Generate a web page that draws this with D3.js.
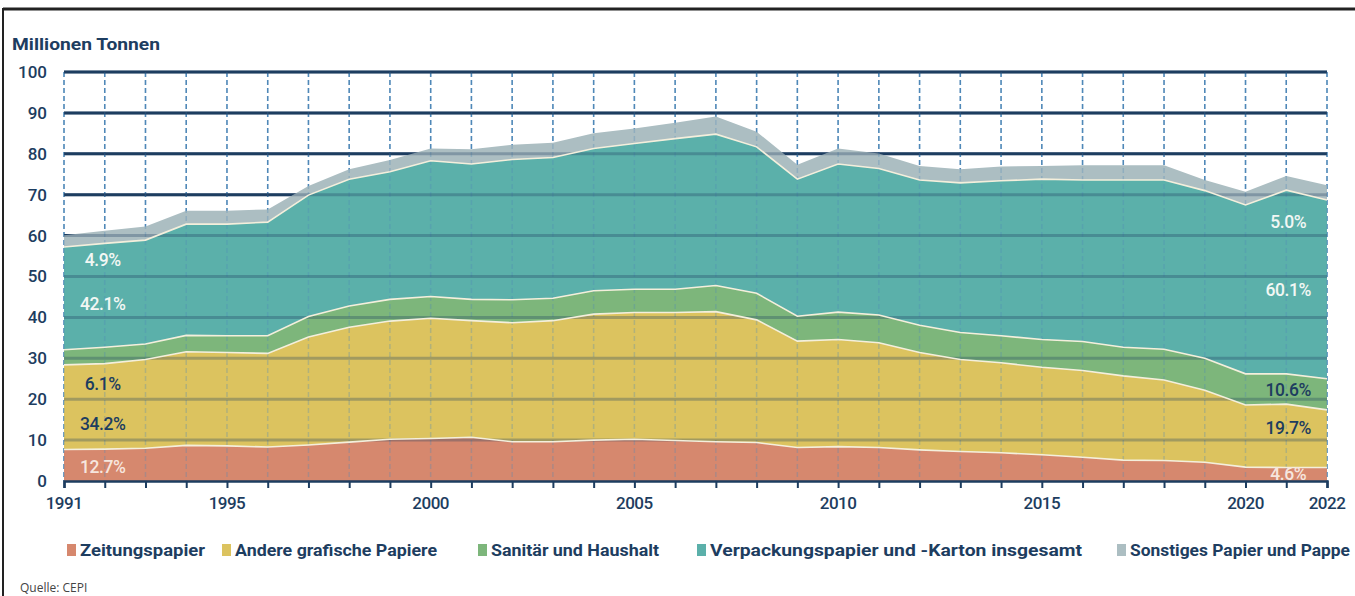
<!DOCTYPE html>
<html>
<head>
<meta charset="utf-8">
<script src="https://cdn.jsdelivr.net/npm/d3@7"></script>
<style>
  body { margin: 0; background: #fff; }
  svg { display: block; }
</style>
</head>
<body>
<svg id="chart" width="1355" height="596"></svg>
<script>
// Papierproduktion nach Sorten, Millionen Tonnen
var years = d3.range(1991, 2023);

var zeitung = [7.7, 7.8, 8.0, 8.7, 8.6, 8.3, 8.8, 9.5, 10.2, 10.4, 10.7, 9.6, 9.6, 10.0, 10.2, 9.9,
  9.6, 9.4, 8.2, 8.4, 8.2, 7.6, 7.2, 6.9, 6.4, 5.8, 5.1, 5.0, 4.6, 3.4, 3.3, 3.3];
var grafisch = [20.7, 20.9, 21.7, 22.9, 22.8, 22.9, 26.4, 28.1, 28.9, 29.4, 28.5, 29.1, 29.6, 30.8, 31.0, 31.3,
  31.8, 30.0, 26.0, 26.2, 25.6, 23.8, 22.5, 22.0, 21.4, 21.2, 20.6, 19.7, 17.6, 15.2, 15.5, 14.1];
var sanitaer = [3.7, 4.0, 3.8, 4.0, 4.1, 4.3, 5.0, 5.2, 5.3, 5.3, 5.2, 5.6, 5.5, 5.7, 5.7, 5.7,
  6.4, 6.5, 6.1, 6.7, 6.8, 6.7, 6.6, 6.6, 6.8, 7.1, 7.0, 7.5, 7.8, 7.6, 7.4, 7.6];
var verpackung = [25.1, 25.4, 25.4, 27.2, 27.3, 27.8, 29.7, 31.0, 31.2, 33.2, 33.1, 34.3, 34.4, 34.8, 35.6, 36.8,
  37.0, 35.8, 33.5, 36.2, 35.8, 35.5, 36.6, 37.9, 39.2, 39.5, 40.9, 41.4, 41.0, 41.3, 44.9, 43.7];
var sonstiges = [2.9, 3.1, 3.3, 3.3, 3.3, 3.1, 2.2, 2.4, 2.9, 3.0, 3.6, 3.6, 3.6, 3.7, 3.7, 3.9,
  4.3, 3.7, 3.5, 3.8, 3.7, 3.4, 3.3, 3.5, 3.2, 3.6, 3.6, 3.6, 2.6, 3.2, 3.5, 3.6];

var seriesNames = ["Zeitungspapier", "Andere grafische Papiere", "Sanitär und Haushalt",
  "Verpackungspapier und -Karton insgesamt", "Sonstiges Papier und Pappe"];
var colors = ["#d6886e", "#dcc35f", "#7db67b", "#5bb0aa", "#acbec2"];

// Anteile 1991 und 2022
var shares1991 = [12.7, 34.2, 6.1, 42.1, 4.9];
var shares2022 = [4.6, 19.7, 10.6, 60.1, 5.0];

var yTicks = d3.range(0, 101, 10);
var xTickLabels = [1991, 1995, 2000, 2005, 2010, 2015, 2020, 2022];

var rows = years.map(function(y, i) {
  return { year: y, s0: zeitung[i], s1: grafisch[i], s2: sanitaer[i], s3: verpackung[i], s4: sonstiges[i] };
});

var svg = d3.select("#chart");
var navy = "#1d3d60";
var font = "Roboto, 'DejaVu Sans', sans-serif";

var x = d3.scaleLinear().domain([1991, 2022]).range([64, 1327]);
var y = d3.scaleLinear().domain([0, 100]).range([481, 72]);

// frame
svg.append("line").attr("x1", 3).attr("x2", 1355).attr("y1", 9).attr("y2", 9)
  .attr("stroke", "#222").attr("stroke-width", 3);
svg.append("line").attr("x1", 3).attr("x2", 3).attr("y1", 8).attr("y2", 596)
  .attr("stroke", "#222").attr("stroke-width", 2);

svg.append("text")
  .attr("x", 12).attr("y", 50)
  .attr("font-family", font).attr("font-weight", 700).attr("font-size", 17)
  .attr("textLength", 148).attr("lengthAdjust", "spacingAndGlyphs")
  .attr("fill", navy)
  .text("Millionen Tonnen");

function drawGrid(g, opacity) {
  g.selectAll(".vgrid")
    .data(years)
    .enter().append("line")
    .attr("x1", function(d) { return x(d); })
    .attr("x2", function(d) { return x(d); })
    .attr("y1", y(100)).attr("y2", y(0))
    .attr("stroke", "#4f88b8")
    .attr("stroke-width", 1.5)
    .attr("stroke-dasharray", "5,3")
    .attr("opacity", opacity);
  g.selectAll(".hgrid")
    .data(yTicks.filter(function(d) { return d > 0; }))
    .enter().append("line")
    .attr("x1", x(1991)).attr("x2", x(2022))
    .attr("y1", function(d) { return y(d); })
    .attr("y2", function(d) { return y(d); })
    .attr("stroke", navy)
    .attr("stroke-width", 3)
    .attr("opacity", opacity);
}

drawGrid(svg.append("g"), 1);

var stack = d3.stack().keys(["s0", "s1", "s2", "s3", "s4"]);
var stacked = stack(rows);

var area = d3.area()
  .x(function(d) { return x(d.data.year); })
  .y0(function(d) { return y(d[0]); })
  .y1(function(d) { return y(d[1]); });

var topLine = d3.line()
  .x(function(d) { return x(d.data.year); })
  .y(function(d) { return y(d[1]); });

svg.append("g").selectAll("path")
  .data(stacked)
  .enter().append("path")
  .attr("d", area)
  .attr("fill", function(d, i) { return colors[i]; });

// grid shows faintly through the areas
drawGrid(svg.append("g"), 0.3);

svg.append("g").selectAll("path")
  .data(stacked.slice(0, 4))
  .enter().append("path")
  .attr("d", topLine)
  .attr("fill", "none")
  .attr("stroke", "#f4efdc")
  .attr("stroke-width", 1.6);

// axes
var yAxis = svg.append("g");
yAxis.selectAll("text")
  .data(yTicks)
  .enter().append("text")
  .attr("x", 47)
  .attr("y", function(d) { return y(d); })
  .attr("dy", "0.35em")
  .attr("text-anchor", "end")
  .attr("font-family", font).attr("font-weight", 500).attr("font-size", 17)
  .attr("fill", navy)
  .text(function(d) { return d; });

var xAxis = svg.append("g")
  .attr("transform", "translate(0," + y(0) + ")")
  .call(d3.axisBottom(x).tickValues(years).tickSize(7).tickFormat(""));
xAxis.select(".domain").attr("stroke", navy).attr("stroke-width", 2.5);
xAxis.selectAll(".tick line").attr("stroke", navy).attr("stroke-width", 2);

svg.append("g").selectAll("text")
  .data(xTickLabels)
  .enter().append("text")
  .attr("x", function(d) { return x(d); })
  .attr("y", 509)
  .attr("text-anchor", "middle")
  .attr("font-family", font).attr("font-weight", 500).attr("font-size", 17)
  .attr("letter-spacing", -0.5)
  .attr("fill", navy)
  .text(function(d) { return d; });

// share labels
var labelColors = ["#f6e6de", navy, navy, "#f2f7f4", "#f2f7f4"];
var leftPos = [3.4, 13.9, 23.7, 43.3, 54.0];
var rightPos = [1.7, 13.0, 22.2, 46.7, 63.3];

function shareLabels(shares, pos, cx) {
  svg.append("g").selectAll("text")
    .data(shares)
    .enter().append("text")
    .attr("x", cx)
    .attr("y", function(d, i) { return y(pos[i]); })
    .attr("dy", "0.35em")
    .attr("text-anchor", "middle")
    .attr("font-family", font).attr("font-weight", 500).attr("font-size", 17.5)
    .attr("letter-spacing", -0.4)
    .attr("fill", function(d, i) { return labelColors[i]; })
    .text(function(d) { return d.toFixed(1) + "%"; });
}
shareLabels(shares1991, leftPos, x(1991.95));
shareLabels(shares2022, rightPos, x(2021.05));

// legend
var legendX = [67, 222, 478, 697, 1117];
var legendW = [125, 202, 168, 372, 220];
var legend = svg.append("g").selectAll("g")
  .data(seriesNames)
  .enter().append("g")
  .attr("transform", function(d, i) { return "translate(" + legendX[i] + ",550)"; });
legend.append("rect")
  .attr("x", 0).attr("y", -6).attr("width", 9).attr("height", 12)
  .attr("fill", function(d, i) { return colors[i]; });
legend.append("text")
  .attr("x", 13).attr("dy", "0.35em")
  .attr("font-family", font).attr("font-weight", 700).attr("font-size", 17)
  .attr("textLength", function(d, i) { return legendW[i]; })
  .attr("lengthAdjust", "spacingAndGlyphs")
  .attr("fill", navy)
  .text(function(d) { return d; });

svg.append("text")
  .attr("x", 20).attr("y", 592)
  .attr("font-family", "'Open Sans', sans-serif").attr("font-size", 12)
  .attr("fill", "#444")
  .text("Quelle: CEPI");
</script>
</body>
</html>
